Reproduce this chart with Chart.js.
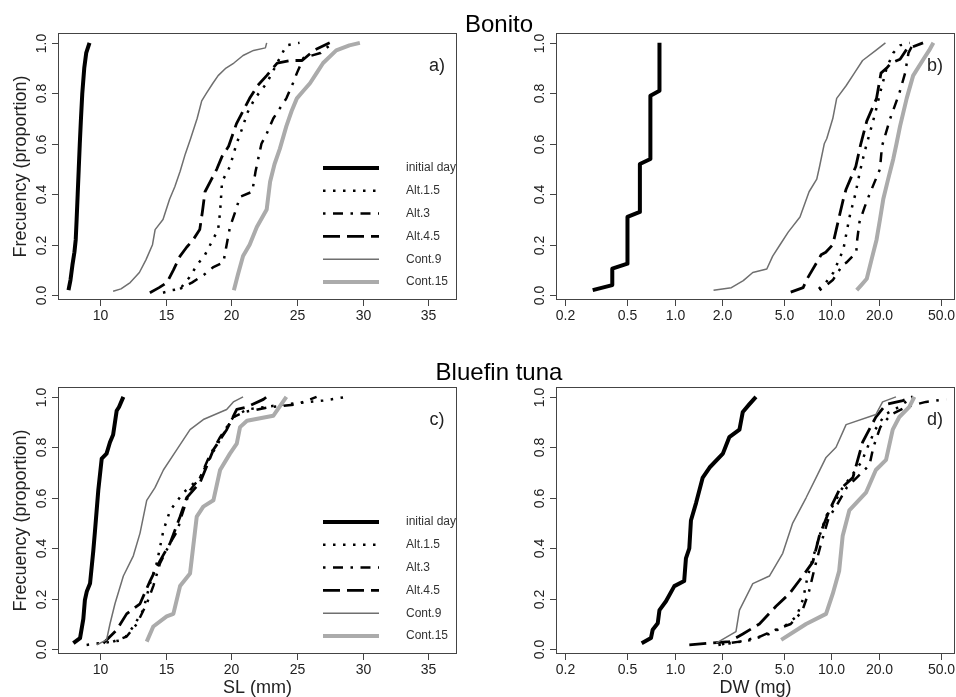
<!DOCTYPE html>
<html>
<head>
<meta charset="utf-8">
<script src="https://cdn.jsdelivr.net/npm/chart.js@4.4.1/dist/chart.umd.min.js"></script>
<style>
  html, body { margin: 0; padding: 0; background: #fff; }
  #wrap { position: relative; width: 956px; height: 697px; overflow: hidden; }
  #wrap canvas { position: absolute; left: 0; top: 0; }
  .title { position: absolute; width: 300px; text-align: center; color: #000;
           font: 24px "Liberation Sans", Arial, sans-serif; line-height: 24px; }
</style>
</head>
<body>
<div id="wrap">
  <canvas id="pa" width="956" height="697"></canvas>
  <canvas id="pb" width="956" height="697"></canvas>
  <canvas id="pc" width="956" height="697"></canvas>
  <canvas id="pd" width="956" height="697"></canvas>
  <div class="title" style="left:349px;top:12px">Bonito</div>
  <div class="title" style="left:349px;top:360px">Bluefin tuna</div>
</div>
<script>
/* series names (legend order) */
const SERIES_NAMES = ["initial day", "Alt.1.5", "Alt.3", "Alt.4.5", "Cont.9", "Cont.15"];

/* axis ticks */
const LIN_TICKS = [10, 15, 20, 25, 30, 35];
const LOG_TICKS = [0.2, 0.5, 1, 2, 5, 10, 20, 50];
const LOG_TICK_LABELS = ["0.2", "0.5", "1.0", "2.0", "5.0", "10.0", "20.0", "50.0"];
const Y_TICKS = [0, 0.2, 0.4, 0.6, 0.8, 1.0];
const Y_TICK_LABELS = ["0.0", "0.2", "0.4", "0.6", "0.8", "1.0"];

/* a) Bonito, SL (mm) — [value, cumulative proportion] */
const A_INIT = [[7.6,0.02],[7.75,0.06],[7.9,0.12],[8.05,0.17],[8.15,0.22],[8.22,0.3],[8.3,0.4],[8.38,0.5],[8.46,0.6],[8.55,0.7],[8.65,0.8],[8.8,0.9],[8.95,0.96],[9.2,1.0]];
const A_ALT15 = [[14.8,0.01],[15.5,0.02],[16.1,0.025],[16.8,0.07],[17.4,0.12],[18.0,0.16],[18.4,0.2],[19.0,0.26],[19.15,0.33],[19.3,0.45],[19.9,0.51],[20.4,0.6],[20.9,0.67],[21.2,0.72],[21.8,0.78],[22.7,0.84],[23.5,0.92],[24.2,0.99],[25.2,1.0]];
const A_ALT3 = [[16.1,0.025],[17.0,0.05],[17.9,0.08],[18.6,0.11],[19.4,0.13],[19.65,0.2],[19.9,0.27],[20.3,0.33],[20.67,0.39],[21.6,0.41],[21.85,0.49],[22.3,0.6],[22.7,0.64],[23.2,0.7],[24.2,0.78],[24.7,0.84],[25.0,0.88],[25.5,0.94],[26.8,0.96],[27.5,0.99],[27.8,1.0]];
const A_ALT45 = [[13.8,0.01],[14.5,0.03],[15.1,0.05],[15.6,0.1],[16.1,0.155],[16.6,0.19],[17.1,0.22],[17.6,0.26],[17.8,0.33],[18.0,0.41],[18.5,0.46],[18.9,0.5],[19.3,0.55],[19.8,0.59],[20.4,0.68],[20.9,0.73],[21.4,0.78],[22.0,0.83],[22.7,0.87],[23.5,0.92],[24.5,0.93],[25.4,0.93],[26.3,0.97],[27.5,1.0]];
const A_CONT9 = [[11.0,0.016],[11.6,0.025],[12.3,0.05],[13.0,0.09],[13.5,0.14],[14.0,0.2],[14.2,0.26],[14.8,0.3],[15.3,0.38],[15.7,0.43],[16.1,0.49],[16.5,0.56],[16.9,0.62],[17.4,0.7],[17.75,0.77],[18.1,0.8],[18.6,0.84],[19.0,0.87],[19.6,0.9],[20.2,0.92],[20.9,0.95],[21.7,0.97],[22.6,0.98],[22.7,1.0]];
const A_CONT15 = [[20.2,0.02],[20.5,0.08],[20.9,0.155],[21.4,0.2],[21.95,0.27],[22.7,0.34],[22.96,0.45],[23.3,0.52],[23.7,0.58],[24.2,0.67],[24.6,0.73],[25.0,0.78],[25.5,0.81],[26.0,0.84],[26.5,0.88],[27.0,0.92],[28.0,0.97],[29.0,0.99],[29.8,1.0]];

/* b) Bonito, DW (mg) */
const B_INIT = [[0.3,0.02],[0.4,0.04],[0.4,0.105],[0.5,0.125],[0.5,0.31],[0.6,0.33],[0.6,0.52],[0.7,0.54],[0.7,0.79],[0.8,0.81],[0.8,1.0]];
const B_ALT15 = [[8.3,0.025],[9.2,0.05],[10.3,0.09],[11.9,0.18],[12.5,0.25],[13.1,0.315],[14.2,0.4],[15.2,0.49],[16.3,0.57],[17.6,0.645],[19.0,0.72],[20.4,0.8],[22.5,0.9],[24.8,0.96],[27.4,0.99],[31.6,1.0]];
const B_ALT3 = [[8.4,0.02],[9.3,0.04],[10.2,0.06],[11.8,0.12],[12.5,0.13],[14.4,0.17],[14.6,0.22],[15.1,0.29],[16.3,0.35],[17.5,0.4],[20.4,0.5],[21.0,0.59],[23.7,0.7],[27.1,0.8],[29.5,0.88],[31.0,0.96],[33.5,1.0]];
const B_ALT45 = [[5.5,0.012],[6.6,0.03],[7.0,0.065],[8.6,0.16],[9.2,0.17],[10.2,0.2],[11.2,0.31],[11.9,0.38],[12.4,0.42],[14.3,0.51],[15.4,0.6],[16.8,0.69],[19.4,0.78],[20.7,0.88],[22.5,0.9],[24.0,0.92],[27.4,0.935],[30.2,0.975],[38.4,1.0]];
const B_CONT9 = [[1.77,0.02],[2.3,0.03],[2.74,0.058],[3.15,0.09],[3.87,0.104],[4.22,0.155],[4.7,0.2],[5.3,0.25],[6.3,0.31],[7.2,0.41],[8.06,0.46],[8.4,0.51],[9.0,0.6],[9.33,0.62],[10.2,0.7],[10.8,0.78],[12.4,0.83],[14.0,0.88],[15.8,0.93],[19.2,0.97],[22.1,1.0]];
const B_CONT15 = [[14.5,0.02],[15.5,0.04],[16.8,0.065],[18.0,0.14],[19.4,0.22],[20.4,0.3],[21.4,0.38],[23.0,0.46],[24.8,0.54],[26.0,0.6],[27.4,0.67],[30.2,0.78],[33.2,0.87],[38.6,0.935],[42.0,0.97],[44.7,1.0]];

/* c) Bluefin tuna, SL (mm) */
const C_INIT = [[7.97,0.024],[8.48,0.044],[8.73,0.12],[8.85,0.195],[9.0,0.23],[9.24,0.26],[9.49,0.39],[9.62,0.47],[9.87,0.63],[10.13,0.755],[10.5,0.775],[10.76,0.82],[11.0,0.85],[11.27,0.945],[11.45,0.96],[11.78,1.0]];
const C_ALT15 = [[8.98,0.017],[10.0,0.024],[11.0,0.03],[11.78,0.037],[12.54,0.09],[13.3,0.156],[13.81,0.26],[14.32,0.34],[14.83,0.47],[15.34,0.55],[16.35,0.62],[17.62,0.68],[18.38,0.76],[19.15,0.83],[20.16,0.92],[21.2,0.95],[24.0,0.97],[27.0,0.985],[28.8,1.0]];
const C_ALT3 = [[11.0,0.03],[12.03,0.05],[12.8,0.1],[13.56,0.18],[14.06,0.25],[14.57,0.34],[15.34,0.42],[15.9,0.47],[16.2,0.525],[16.86,0.63],[17.62,0.68],[18.38,0.77],[19.15,0.84],[20.16,0.92],[21.0,0.94],[23.0,0.96],[25.0,0.97],[26.5,1.0]];
const C_ALT45 = [[10.25,0.024],[11.27,0.076],[12.03,0.14],[13.05,0.18],[13.81,0.27],[14.57,0.35],[15.34,0.42],[16.1,0.525],[16.6,0.6],[17.62,0.66],[18.64,0.79],[19.65,0.87],[20.42,0.95],[21.2,0.96],[22.45,0.99],[22.7,1.0]];
const C_CONT9 = [[9.75,0.017],[10.5,0.037],[10.76,0.1],[11.14,0.18],[11.78,0.29],[12.54,0.37],[13.05,0.46],[13.56,0.59],[14.19,0.64],[14.83,0.71],[15.84,0.79],[16.86,0.87],[17.87,0.91],[19.65,0.95],[20.16,0.98],[20.9,1.0]];
const C_CONT15 = [[13.56,0.03],[14.06,0.09],[15.08,0.13],[15.59,0.14],[16.1,0.25],[16.86,0.3],[17.37,0.525],[17.87,0.565],[18.64,0.59],[19.15,0.71],[19.9,0.775],[20.42,0.815],[20.67,0.88],[21.2,0.905],[23.2,0.925],[24.2,1.0]];

/* d) Bluefin tuna, DW (mg) */
const D_INIT = [[0.616,0.024],[0.706,0.044],[0.724,0.077],[0.78,0.103],[0.8,0.155],[0.88,0.19],[0.995,0.25],[1.15,0.27],[1.18,0.36],[1.24,0.4],[1.27,0.51],[1.37,0.58],[1.51,0.68],[1.67,0.72],[2.03,0.775],[2.23,0.84],[2.59,0.87],[2.72,0.94],[2.99,0.97],[3.3,1.0]];
const D_ALT15 = [[1.9,0.017],[2.3,0.024],[3.0,0.035],[4.0,0.06],[5.0,0.09],[6.0,0.13],[6.6,0.2],[7.0,0.28],[7.6,0.36],[8.4,0.45],[9.3,0.53],[10.5,0.58],[11.5,0.63],[13.5,0.69],[15.5,0.74],[17.0,0.8],[19.0,0.87],[22.0,0.93],[27.0,0.96],[33.0,1.0]];
const D_ALT3 = [[2.0,0.02],[2.6,0.03],[3.5,0.05],[4.5,0.08],[5.5,0.1],[6.5,0.15],[7.2,0.23],[7.8,0.32],[8.6,0.42],[9.6,0.52],[10.8,0.57],[12.5,0.64],[14.5,0.68],[17.5,0.73],[18.5,0.8],[20.5,0.88],[24.0,0.93],[30.0,0.96],[40.0,0.98],[54.0,0.99]];
const D_ALT45 = [[1.24,0.017],[1.67,0.024],[2.23,0.03],[2.72,0.06],[3.47,0.1],[4.43,0.17],[5.39,0.22],[6.56,0.29],[7.6,0.345],[8.38,0.45],[9.7,0.55],[11.2,0.63],[13.7,0.68],[15.8,0.82],[19.2,0.92],[22.3,0.97],[28.5,0.985],[33.0,1.0]];
const D_CONT9 = [[1.84,0.024],[2.46,0.07],[2.59,0.155],[3.15,0.26],[4.02,0.29],[4.89,0.38],[5.66,0.5],[6.89,0.6],[7.98,0.68],[9.24,0.76],[10.7,0.8],[12.4,0.89],[19.2,0.93],[21.2,0.98],[25.8,1.0]];
const D_CONT15 = [[4.78,0.037],[6.89,0.1],[9.24,0.14],[10.2,0.22],[11.2,0.31],[11.8,0.45],[13.0,0.55],[16.6,0.62],[19.2,0.71],[22.3,0.75],[24.6,0.87],[27.1,0.92],[31.4,0.96],[33.8,1.0]];

/* R-like line styles, same order as SERIES_NAMES */
const LINE_STYLES = [
  { color: "#000000", width: 4,   dash: [] },
  { color: "#000000", width: 2.5, dash: [2.5, 7.5] },
  { color: "#000000", width: 2.5, dash: [2.5, 7.5, 10, 7.5] },
  { color: "#000000", width: 2.8, dash: [17, 7] },
  { color: "#6f6f6f", width: 1.5, dash: [] },
  { color: "#ababab", width: 4,   dash: [] }
];

const FONT = '"Liberation Sans", Arial, Helvetica, sans-serif';
const W = 956, H = 697;

function rFrame(p) {
  return {
    id: "rframe",
    afterDatasetsDraw(chart) {
      const ctx = chart.ctx, a = chart.chartArea;
      const xs = chart.scales.x, ys = chart.scales.y;
      ctx.save();
      ctx.strokeStyle = "#444";
      ctx.lineWidth = 1;
      ctx.setLineDash([]);
      ctx.strokeRect(Math.round(a.left) + 0.5, Math.round(a.top) + 0.5,
                     Math.round(a.right - a.left) - 1, Math.round(a.bottom - a.top) - 1);

      ctx.fillStyle = "#222";
      ctx.font = "14px " + FONT;

      /* x ticks */
      const xt = p.log ? LOG_TICKS : LIN_TICKS;
      const xl = p.log ? LOG_TICK_LABELS : LIN_TICKS.map(String);
      ctx.textAlign = "center";
      ctx.textBaseline = "alphabetic";
      xt.forEach(function (v, i) {
        const x = Math.round(xs.getPixelForValue(v)) + 0.5;
        ctx.beginPath();
        ctx.moveTo(x, a.bottom);
        ctx.lineTo(x, a.bottom + 6);
        ctx.stroke();
        ctx.fillText(xl[i], x, a.bottom + 20);
      });

      /* y ticks, rotated like R's default */
      Y_TICKS.forEach(function (v, i) {
        const y = Math.round(ys.getPixelForValue(v)) + 0.5;
        ctx.beginPath();
        ctx.moveTo(a.left, y);
        ctx.lineTo(a.left - 6, y);
        ctx.stroke();
        ctx.save();
        ctx.translate(a.left - 12, y);
        ctx.rotate(-Math.PI / 2);
        ctx.fillText(Y_TICK_LABELS[i], 0, 0);
        ctx.restore();
      });

      /* axis titles */
      ctx.font = "18px " + FONT;
      if (p.yTitle) {
        ctx.save();
        ctx.translate(26, (a.top + a.bottom) / 2);
        ctx.rotate(-Math.PI / 2);
        ctx.fillText(p.yTitle, 0, 0);
        ctx.restore();
      }
      if (p.xTitle) {
        ctx.fillText(p.xTitle, (a.left + a.right) / 2, a.bottom + 39);
      }

      /* panel letter */
      ctx.textBaseline = "middle";
      ctx.fillText(p.letter, a.right - 20, a.top + 33);

      /* legend (no box) */
      if (p.legend) {
        ctx.font = "12px " + FONT;
        ctx.textAlign = "left";
        SERIES_NAMES.forEach(function (name, i) {
          const st = LINE_STYLES[i];
          const y = a.bottom - 132 + i * 22.8;
          ctx.strokeStyle = st.color;
          ctx.lineWidth = st.width;
          ctx.setLineDash(st.dash);
          ctx.beginPath();
          ctx.moveTo(a.left + 265, y);
          ctx.lineTo(a.left + 321, y);
          ctx.stroke();
          ctx.fillStyle = "#333";
          ctx.fillText(name, a.left + 348, y);
        });
      }
      ctx.restore();
    }
  };
}

function makePanel(id, p) {
  const el = document.getElementById(id);
  return new Chart(el, {
    type: "scatter",
    data: {
      datasets: p.series.map(function (pts, i) {
        const st = LINE_STYLES[i];
        return {
          label: SERIES_NAMES[i],
          data: pts.map(function (d) { return { x: d[0], y: d[1] }; }),
          showLine: true,
          pointRadius: 0,
          borderColor: st.color,
          borderWidth: st.width,
          borderDash: st.dash,
          borderJoinStyle: "round",
          tension: 0,
          fill: false,
          order: SERIES_NAMES.length - i
        };
      })
    },
    options: {
      responsive: false,
      devicePixelRatio: 1,
      animation: false,
      events: [],
      layout: { padding: { left: p.box[0], top: p.box[1], right: W - p.box[2], bottom: H - p.box[3] } },
      scales: {
        x: p.log
          ? { type: "logarithmic", min: 0.175, max: 61.4, bounds: "data", display: false }
          : { type: "linear", min: 6.8, max: 37.2, bounds: "data", display: false },
        y: { type: "linear", min: -0.019, max: 1.039, bounds: "data", display: false }
      },
      plugins: { legend: { display: false }, tooltip: { enabled: false } }
    },
    plugins: [rFrame(p)]
  });
}

makePanel("pa", { box: [58, 33, 457, 300], log: false, letter: "a)", legend: true,
  yTitle: "Frecuency (proportion)", series: [A_INIT, A_ALT15, A_ALT3, A_ALT45, A_CONT9, A_CONT15] });
makePanel("pb", { box: [556, 33, 955, 300], log: true, letter: "b)", legend: false,
  series: [B_INIT, B_ALT15, B_ALT3, B_ALT45, B_CONT9, B_CONT15] });
makePanel("pc", { box: [58, 387, 457, 654], log: false, letter: "c)", legend: true,
  yTitle: "Frecuency (proportion)", xTitle: "SL (mm)", series: [C_INIT, C_ALT15, C_ALT3, C_ALT45, C_CONT9, C_CONT15] });
makePanel("pd", { box: [556, 387, 955, 654], log: true, letter: "d)", legend: false,
  xTitle: "DW (mg)", series: [D_INIT, D_ALT15, D_ALT3, D_ALT45, D_CONT9, D_CONT15] });
</script>
</body>
</html>
